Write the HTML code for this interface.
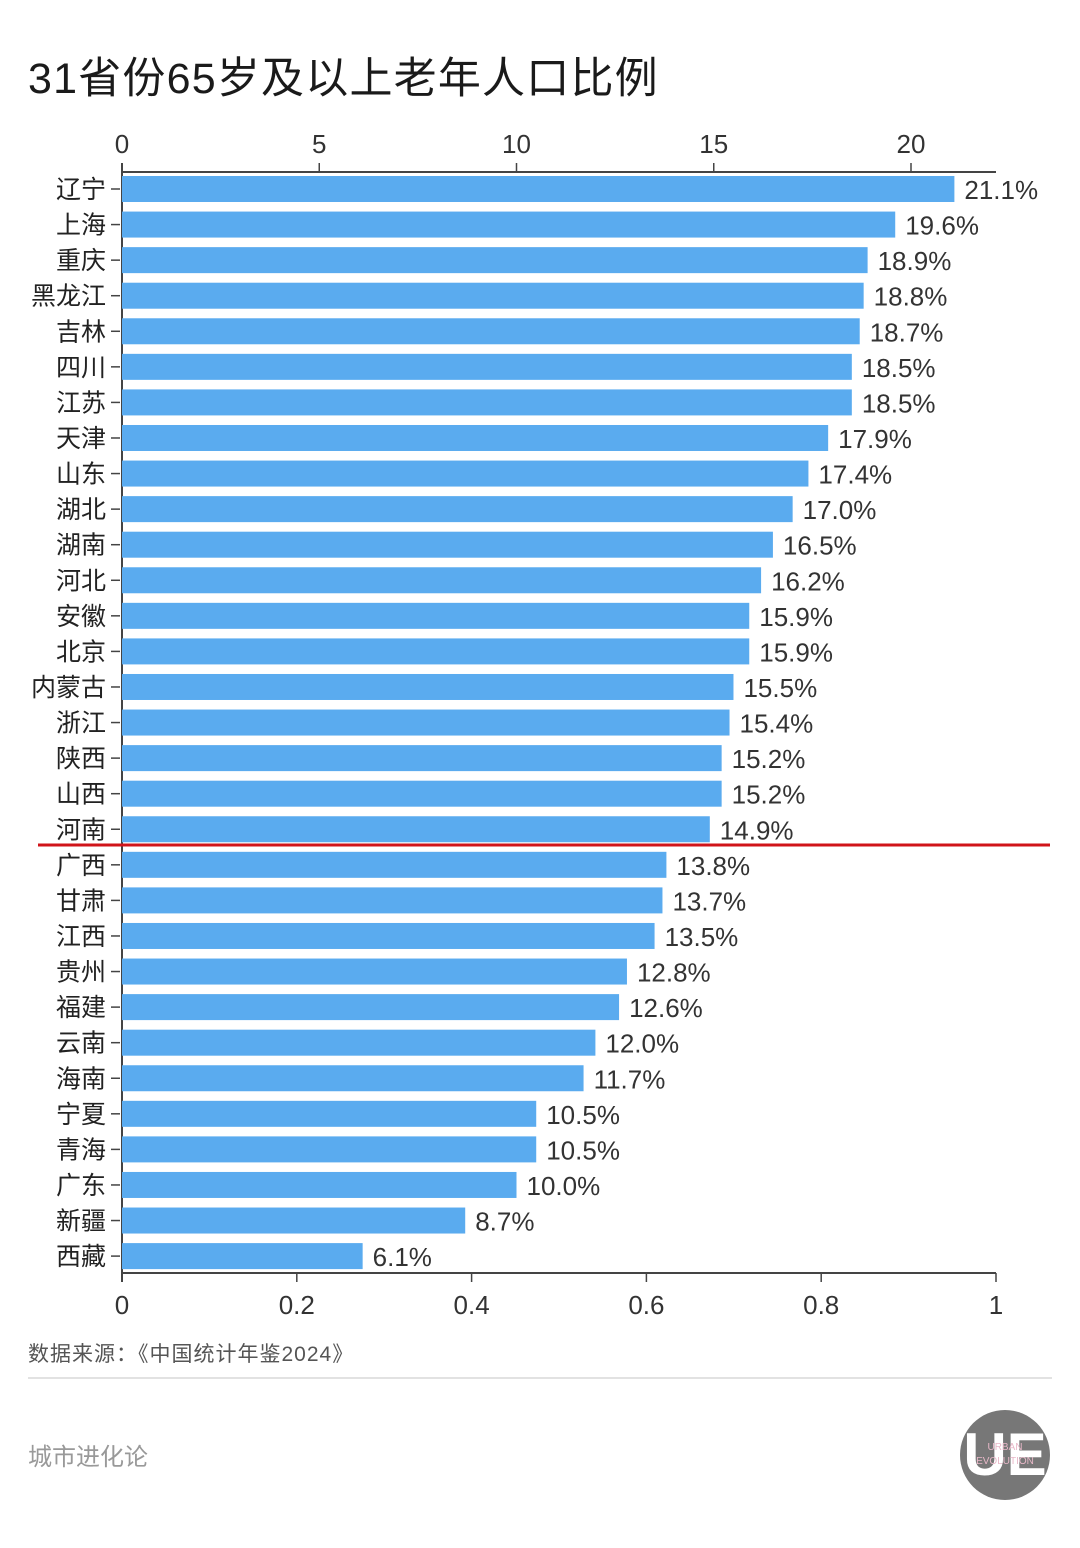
<!DOCTYPE html>
<html><head><meta charset="utf-8"><style>
body{margin:0;background:#fff;}
svg{display:block;font-family:"Liberation Sans","Noto Sans CJK SC",sans-serif;}
</style></head><body>
<svg id="s" width="1080" height="1548" viewBox="0 0 1080 1548" xmlns="http://www.w3.org/2000/svg">
<rect width="1080" height="1548" fill="#fff"/>
<text x="28" y="93" font-size="43" letter-spacing="1.2" fill="#1a1a1a">31省份65岁及以上老年人口比例</text>
<g id="g"></g>
<line x1="38" y1="845" x2="1050" y2="845" stroke="#d0141a" stroke-width="3"/>
<text x="28" y="1361" font-size="21" letter-spacing="1" fill="#555">数据来源：《中国统计年鉴2024》</text>
<line x1="28" y1="1378" x2="1052" y2="1378" stroke="#e2e2e2" stroke-width="2"/>
<text x="28" y="1465" font-size="24" fill="#999">城市进化论</text>
<circle cx="1005" cy="1455" r="45" fill="#777"/>
<text x="1005" y="1475" font-size="60" font-weight="bold" fill="#fff" text-anchor="middle">UE</text>
<text x="1005" y="1450" font-size="10" fill="#e8b8c8" text-anchor="middle">URBAN</text>
<text x="1005" y="1464" font-size="10" fill="#e8b8c8" text-anchor="middle">EVOLUTION</text>
</svg>
<script>
const d=[["辽宁",21.1],["上海",19.6],["重庆",18.9],["黑龙江",18.8],["吉林",18.7],["四川",18.5],["江苏",18.5],["天津",17.9],["山东",17.4],["湖北",17.0],["湖南",16.5],["河北",16.2],["安徽",15.9],["北京",15.9],["内蒙古",15.5],["浙江",15.4],["陕西",15.2],["山西",15.2],["河南",14.9],["广西",13.8],["甘肃",13.7],["江西",13.5],["贵州",12.8],["福建",12.6],["云南",12.0],["海南",11.7],["宁夏",10.5],["青海",10.5],["广东",10.0],["新疆",8.7],["西藏",6.1]];
const NS="http://www.w3.org/2000/svg",g=document.getElementById("g");
function el(t,a,txt){const e=document.createElementNS(NS,t);for(const k in a)e.setAttribute(k,a[k]);if(txt!==undefined)e.textContent=txt;g.appendChild(e);return e;}
const x0=122,k=39.45;
el("line",{x1:x0,y1:172,x2:996,y2:172,stroke:"#444","stroke-width":2});
el("line",{x1:x0,y1:1273,x2:996,y2:1273,stroke:"#444","stroke-width":2});
el("line",{x1:x0,y1:163,x2:x0,y2:1282,stroke:"#444","stroke-width":2});
for(let i=0;i<=20;i+=5){const x=x0+i*k;el("line",{x1:x,y1:163,x2:x,y2:172,stroke:"#444","stroke-width":1.5});el("text",{x:x,y:153,"font-size":26,fill:"#333","text-anchor":"middle"},String(i));}
["0","0.2","0.4","0.6","0.8","1"].forEach((t,i)=>{const x=x0+i*174.8;el("line",{x1:x,y1:1273,x2:x,y2:1282,stroke:"#444","stroke-width":1.5});el("text",{x:x,y:1314,"font-size":26,fill:"#333","text-anchor":"middle"},t);});
d.forEach((r,i)=>{const cy=189+i*35.57;const w=r[1]*k;
el("rect",{x:x0,y:cy-13,width:w,height:26,fill:"#5aabef"});
el("line",{x1:111,y1:cy,x2:120,y2:cy,stroke:"#444","stroke-width":1.5});
el("text",{x:106,y:cy+9,"font-size":25,fill:"#222","text-anchor":"end"},r[0]);
el("text",{x:x0+w+10,y:cy+10,"font-size":26,fill:"#333"},r[1].toFixed(1)+"%");});
</script>
</body></html>
